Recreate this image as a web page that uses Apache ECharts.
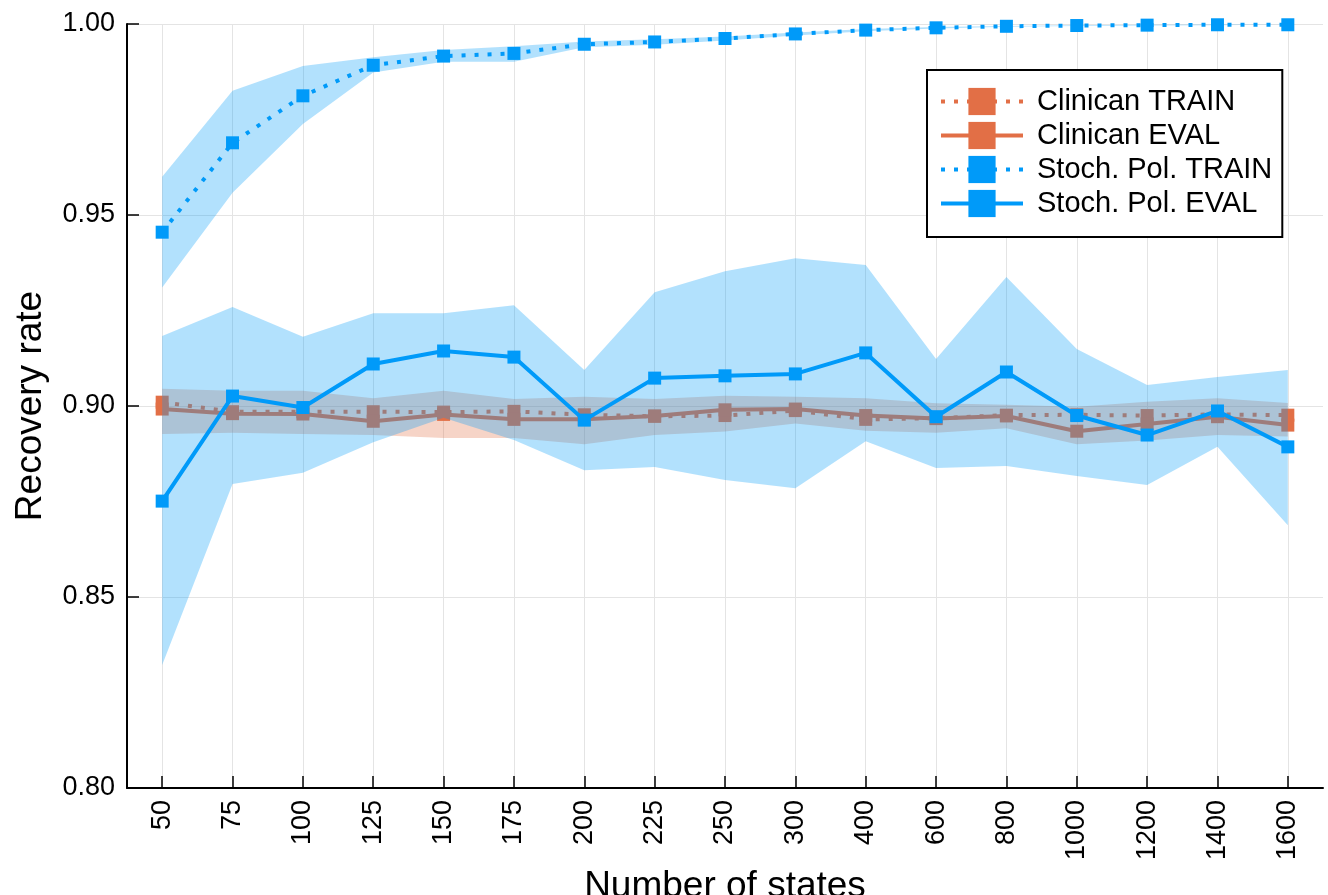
<!DOCTYPE html>
<html>
<head>
<meta charset="utf-8">
<script src="https://cdn.jsdelivr.net/npm/echarts@6/dist/echarts.min.js"></script>
<style>
  html, body { margin: 0; padding: 0; background: #fff; }
  #chart { width: 1328px; height: 895px; }
</style>
</head>
<body>
<div id="chart"></div>
<script>
// Number of discretised states (x categories)
const states = ['50', '75', '100', '125', '150', '175', '200', '225', '250', '300', '400', '600', '800', '1000', '1200', '1400', '1600'];

// Clinician policy recovery rate
const clinTrain = [0.9010, 0.8985, 0.8985, 0.8985, 0.8984, 0.8986, 0.8977, 0.8973, 0.8975, 0.8988, 0.8965, 0.8968, 0.8976, 0.8977, 0.8975, 0.8978, 0.8976];
const clinEval  = [0.8992, 0.8980, 0.8979, 0.8960, 0.8978, 0.8965, 0.8965, 0.8974, 0.8990, 0.8992, 0.8975, 0.8967, 0.8974, 0.8934, 0.8953, 0.8972, 0.8950];
const clinLo    = [0.8927, 0.8930, 0.8927, 0.8924, 0.8916, 0.8916, 0.8900, 0.8924, 0.8933, 0.8954, 0.8935, 0.8930, 0.8942, 0.8900, 0.8910, 0.8924, 0.8920];
const clinHi    = [0.9045, 0.9040, 0.9040, 0.9020, 0.9040, 0.9018, 0.9024, 0.9018, 0.9027, 0.9024, 0.9020, 0.9007, 0.9003, 0.8998, 0.9011, 0.9020, 0.9008];

// Stochastic policy recovery rate
const stochTrain   = [0.9455, 0.9689, 0.9812, 0.9892, 0.9916, 0.9923, 0.9947, 0.9953, 0.9962, 0.9974, 0.9984, 0.9990, 0.9994, 0.9996, 0.9997, 0.9998, 0.9998];
const stochTrainLo = [0.9310, 0.9558, 0.9738, 0.9873, 0.9901, 0.9901, 0.9939, 0.9946, 0.9957, 0.9970, 0.9981, 0.9988, 0.9993, 0.9995, 0.9996, 0.9997, 0.9997];
const stochTrainHi = [0.9600, 0.9825, 0.9890, 0.9913, 0.9932, 0.9942, 0.9954, 0.9960, 0.9967, 0.9978, 0.9987, 0.9992, 0.9995, 0.9997, 0.9998, 0.9999, 0.9999];
const stochEval    = [0.8751, 0.9026, 0.8996, 0.9110, 0.9144, 0.9128, 0.8963, 0.9073, 0.9079, 0.9084, 0.9139, 0.8972, 0.9089, 0.8975, 0.8924, 0.8987, 0.8893];
const stochEvalLo  = [0.8322, 0.8796, 0.8825, 0.8905, 0.8969, 0.8911, 0.8832, 0.8840, 0.8806, 0.8785, 0.8908, 0.8838, 0.8843, 0.8817, 0.8793, 0.8893, 0.8688];
const stochEvalHi  = [0.9183, 0.9259, 0.9181, 0.9243, 0.9243, 0.9264, 0.9094, 0.9298, 0.9353, 0.9387, 0.9369, 0.9123, 0.9338, 0.9149, 0.9055, 0.9076, 0.9094];

// y-axis ticks
const yTicks = { min: 0.80, max: 1.00, step: 0.05 };

const ORANGE = '#e26f46';
const BLUE = '#009af9';
const FONT = 'Liberation Sans, Arial, sans-serif';

// Shaded band = invisible lower series + stacked width series with filled area
function band(lo, hi, stackId, color, z) {
  const width = hi.map((v, i) => +(v - lo[i]).toFixed(6));
  const common = {
    type: 'line', stack: stackId, symbol: 'none', z: z, silent: true,
    lineStyle: { width: 0, opacity: 0 }, emphasis: { disabled: true }, animation: false
  };
  return [
    Object.assign({}, common, { data: lo }),
    Object.assign({}, common, { data: width, areaStyle: { color: color, opacity: 1 } })
  ];
}

function line(name, data, color, dotted, z) {
  return {
    type: 'line', name: name, data: data, z: z, silent: true,
    symbol: 'rect', symbolSize: 13, showAllSymbol: true,
    itemStyle: { color: color },
    lineStyle: { color: color, width: 4, type: dotted ? [4, 9] : 'solid', cap: 'butt' },
    emphasis: { disabled: true }, animation: false
  };
}

const series = [].concat(
  band(clinLo, clinHi, 'clinBand', 'rgba(226,111,70,0.3)', 1),
  [line('Clinican TRAIN', clinTrain, ORANGE, true, 2),
   line('Clinican EVAL', clinEval, ORANGE, false, 2)],
  band(stochTrainLo, stochTrainHi, 'stochTrainBand', 'rgba(0,154,249,0.3)', 3),
  band(stochEvalLo, stochEvalHi, 'stochEvalBand', 'rgba(0,154,249,0.3)', 3),
  [line('Stoch. Pol. TRAIN', stochTrain, BLUE, true, 4),
   line('Stoch. Pol. EVAL', stochEval, BLUE, false, 4)]
);

const chart = echarts.init(document.getElementById('chart'), null, { renderer: 'canvas' });
chart.setOption({
  animation: false,
  backgroundColor: '#fff',
  textStyle: { fontFamily: FONT, color: '#000' },
  grid: { left: 127, right: 5, top: 24, bottom: 107, containLabel: false, outerBoundsMode: 'none' },
  legend: {
    orient: 'vertical', left: 927, top: 70,
    padding: [17, 10, 19, 12],
    itemGap: 5, itemWidth: 82, itemHeight: 34,
    backgroundColor: '#fff', borderColor: '#000', borderWidth: 2, borderRadius: 0,
    selectedMode: false,
    lineStyle: { width: 4 },
    textStyle: { fontFamily: FONT, fontSize: 29, color: '#000', padding: [0, 0, 0, 9] },
    data: ['Clinican TRAIN', 'Clinican EVAL', 'Stoch. Pol. TRAIN', 'Stoch. Pol. EVAL']
  },
  xAxis: {
    type: 'category', data: states, boundaryGap: true,
    name: 'Number of states', nameLocation: 'middle', nameGap: 74,
    nameTextStyle: { fontFamily: FONT, fontSize: 37, color: '#000' },
    axisLine: { show: true, lineStyle: { color: '#000', width: 2 } },
    axisTick: { show: true, inside: true, length: 12, interval: 0, alignWithLabel: true, lineStyle: { color: '#000', width: 1.5 } },
    axisLabel: { rotate: 90, margin: 12, interval: 0, fontFamily: FONT, fontSize: 27, color: '#000' },
    splitLine: { show: true, interval: 0, alignWithLabel: true, lineStyle: { color: '#e4e4e4', width: 1 } }
  },
  yAxis: {
    type: 'value', min: yTicks.min, max: yTicks.max, interval: yTicks.step,
    name: 'Recovery rate', nameLocation: 'middle', nameGap: 78,
    nameTextStyle: { fontFamily: FONT, fontSize: 37, color: '#000' },
    axisLine: { show: true, lineStyle: { color: '#000', width: 2 } },
    axisTick: { show: true, inside: true, length: 12, lineStyle: { color: '#000', width: 1.5 } },
    axisLabel: { margin: 12, fontFamily: FONT, fontSize: 27, color: '#000', formatter: v => v.toFixed(2) },
    splitLine: { show: true, lineStyle: { color: '#e4e4e4', width: 1 } }
  },
  series: series
});
</script>
</body>
</html>
